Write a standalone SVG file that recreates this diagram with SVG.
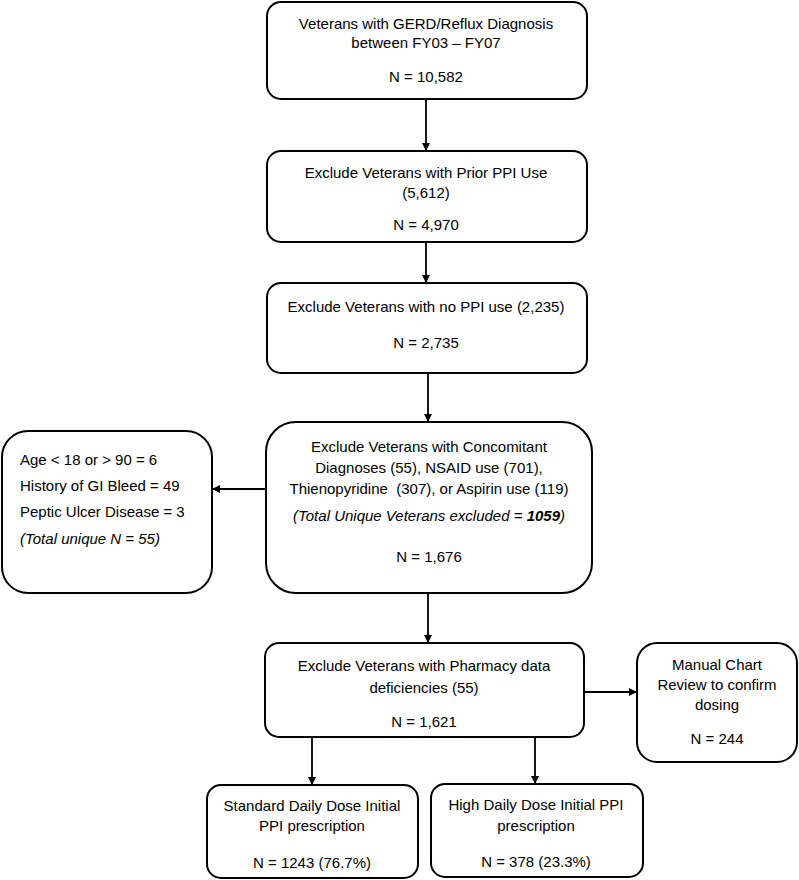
<svg xmlns="http://www.w3.org/2000/svg" width="799" height="880" viewBox="0 0 799 880">
<style>
.box{fill:#fff;stroke:#000;stroke-width:2}
text{font-family:"Liberation Sans",Arial,sans-serif;font-size:15px;fill:#000}
.c{text-anchor:middle}
.i{font-style:italic}
.b{font-weight:bold}
.ln{stroke:#000;stroke-width:1.8;fill:none}
</style>
<defs>
<marker id="ah" viewBox="0 0 10 10" refX="10" refY="5" markerWidth="8" markerHeight="8" markerUnits="userSpaceOnUse" orient="auto">
<path d="M0,0 L10,5 L0,10 z" fill="#000"/>
</marker>
</defs>
<rect width="799" height="880" fill="#fff"/>
<g id="connectors">
<line class="ln" x1="426" y1="99" x2="426" y2="151" marker-end="url(#ah)"/>
<line class="ln" x1="426" y1="242" x2="426" y2="283" marker-end="url(#ah)"/>
<line class="ln" x1="428" y1="373" x2="428" y2="422" marker-end="url(#ah)"/>
<line class="ln" x1="266" y1="489" x2="212" y2="489" marker-end="url(#ah)"/>
<line class="ln" x1="428" y1="593" x2="428" y2="643" marker-end="url(#ah)"/>
<line class="ln" x1="584" y1="692" x2="637" y2="692" marker-end="url(#ah)"/>
<line class="ln" x1="312" y1="737" x2="312" y2="785" marker-end="url(#ah)"/>
<line class="ln" x1="535" y1="737" x2="535" y2="784" marker-end="url(#ah)"/>
</g>
<g id="n1">
<rect class="box" x="267" y="2" width="320" height="97" rx="14"/>
<text class="c" x="426" y="29">Veterans with GERD/Reflux Diagnosis</text>
<text class="c" x="426" y="48">between FY03 – FY07</text>
<text class="c" x="426" y="82">N = 10,582</text>
</g>
<g id="n2">
<rect class="box" x="267" y="151" width="320" height="91" rx="14"/>
<text class="c" x="426" y="178">Exclude Veterans with Prior PPI Use</text>
<text class="c" x="426" y="198">(5,612)</text>
<text class="c" x="426" y="230">N = 4,970</text>
</g>
<g id="n3">
<rect class="box" x="267" y="283" width="320" height="90" rx="14"/>
<text class="c" x="426" y="312">Exclude Veterans with no PPI use (2,235)</text>
<text class="c" x="426" y="348">N = 2,735</text>
</g>
<g id="n4">
<rect class="box" x="266" y="422" width="326" height="171" rx="30"/>
<text class="c" x="429" y="452">Exclude Veterans with Concomitant</text>
<text class="c" x="429" y="473">Diagnoses (55), NSAID use (701),</text>
<text class="c" x="429" y="494" xml:space="preserve">Thienopyridine  (307), or Aspirin use (119)</text>
<text class="c i" x="429" y="521">(Total Unique Veterans excluded = <tspan class="b">1059</tspan>)</text>
<text class="c" x="429" y="562">N = 1,676</text>
</g>
<g id="n5">
<rect class="box" x="2" y="431" width="210" height="162" rx="26"/>
<text x="20" y="465">Age &lt; 18 or &gt; 90 = 6</text>
<text x="20" y="491">History of GI Bleed = 49</text>
<text x="20" y="517">Peptic Ulcer Disease = 3</text>
<text class="i" x="20" y="544">(Total unique N = 55)</text>
</g>
<g id="n6">
<rect class="box" x="265" y="643" width="319" height="94" rx="14"/>
<text class="c" x="424" y="671">Exclude Veterans with Pharmacy data</text>
<text class="c" x="424" y="693">deficiencies (55)</text>
<text class="c" x="424" y="727">N = 1,621</text>
</g>
<g id="n7">
<rect class="box" x="637" y="643" width="160" height="119" rx="20"/>
<text class="c" x="717" y="670">Manual Chart</text>
<text class="c" x="717" y="690">Review to confirm</text>
<text class="c" x="717" y="710">dosing</text>
<text class="c" x="717" y="744">N = 244</text>
</g>
<g id="n8">
<rect class="box" x="207" y="785" width="211" height="93" rx="14"/>
<text class="c" x="312" y="811">Standard Daily Dose Initial</text>
<text class="c" x="312" y="831">PPI prescription</text>
<text class="c" x="312" y="868">N = 1243 (76.7%)</text>
</g>
<g id="n9">
<rect class="box" x="431" y="784" width="212" height="93" rx="14"/>
<text class="c" x="536" y="810">High Daily Dose Initial PPI</text>
<text class="c" x="536" y="831">prescription</text>
<text class="c" x="536" y="867">N = 378 (23.3%)</text>
</g>
</svg>
